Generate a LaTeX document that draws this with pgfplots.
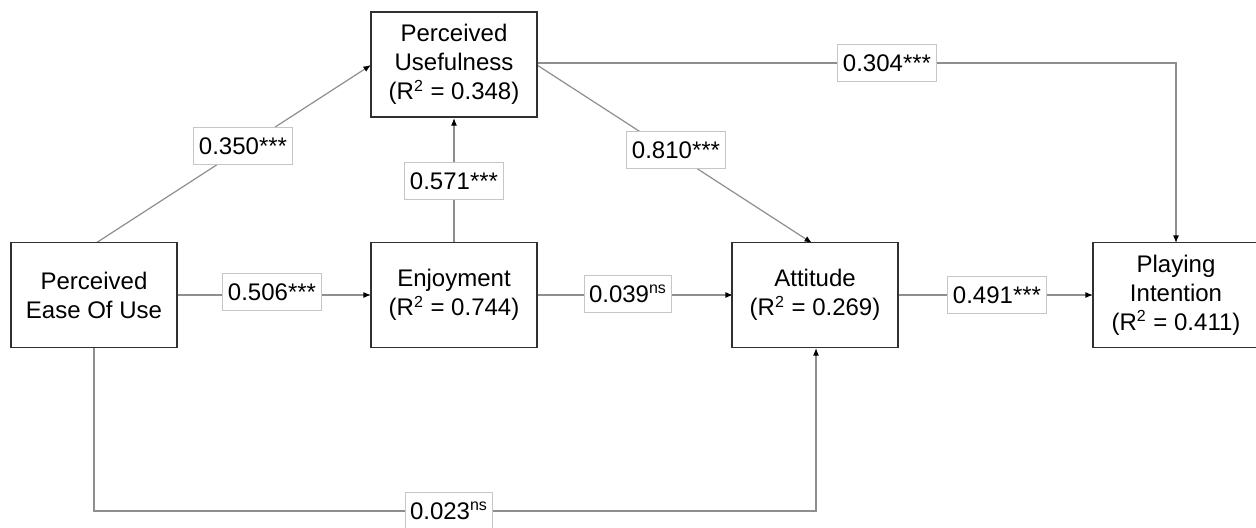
\documentclass[border=0pt]{standalone}
\usepackage{pgfplots}
\pgfplotsset{compat=1.18}
\usepackage{fontspec}
\setmainfont{Liberation Sans}
\usetikzlibrary{arrows.meta}
\definecolor{boxc}{HTML}{303030}
\definecolor{linec}{HTML}{8E8E8E}
\definecolor{lblc}{HTML}{C6C6C6}
\begin{document}
\begin{tikzpicture}
\begin{axis}[x=0.5pt, y=-0.5pt, xmin=0, xmax=1256, ymin=0, ymax=527,
  hide axis, clip=false,
  conn/.style={linec, line width=0.6pt, -{Latex[length=3.8pt,width=3pt,color=black]}, mark=none},
  ]
\coordinate (ll) at (axis cs:0,527);
\coordinate (ur) at (axis cs:1256,0);
% connectors
\addplot[conn] coordinates {(96,243) (371,65)};
\addplot[conn] coordinates {(454,243) (454,118)};
\addplot[conn] coordinates {(537,65) (812,243)};
\addplot[conn] coordinates {(537,63) (1176,63) (1176,243)};
\addplot[conn] coordinates {(177,295) (371,295)};
\addplot[conn] coordinates {(537,295) (733,295)};
\addplot[conn] coordinates {(897,295) (1093,295)};
\addplot[conn] coordinates {(94,347) (94,511) (816,511) (816,348)};
% coefficient labels
\tikzset{lbl/.style={draw=lblc, line width=0.5pt, fill=white, inner xsep=2.5pt, inner ysep=0pt,
  minimum height=18.5pt, font=\fontsize{12pt}{14pt}\selectfont}}
\node[lbl] at (axis cs:243,146) {0.350***};
\node[lbl] at (axis cs:454,181) {0.571***};
\node[lbl] at (axis cs:676,150) {0.810***};
\node[lbl] at (axis cs:887,63) {0.304***};
\node[lbl] at (axis cs:272,292) {0.506***};
\node[lbl] at (axis cs:628,294) {0.039\textsuperscript{ns}};
\node[lbl] at (axis cs:997,295) {0.491***};
\node[lbl] at (axis cs:449,511) {0.023\textsuperscript{ns}};
% construct boxes
\tikzset{cbox/.style={draw=boxc, line width=0.8pt, fill=white, minimum width=83pt, minimum height=52.5pt,
  inner sep=0pt, align=center, font=\fontsize{12pt}{14.5pt}\selectfont}}
\node[cbox] at (axis cs:454,64.5) {Perceived\\Usefulness\\(R\textsuperscript{2} = 0.348)};
\node[cbox] at (axis cs:94,295) {Perceived\\Ease Of Use};
\node[cbox] at (axis cs:454,295) {Enjoyment\\(R\textsuperscript{2} = 0.744)};
\node[cbox] at (axis cs:815,295) {Attitude\\(R\textsuperscript{2} = 0.269)};
\node[cbox] at (axis cs:1176,295) {Playing\\Intention\\(R\textsuperscript{2} = 0.411)};
\end{axis}
\pgfresetboundingbox
\path[use as bounding box] (ll) rectangle (ur);
\end{tikzpicture}
\end{document}
